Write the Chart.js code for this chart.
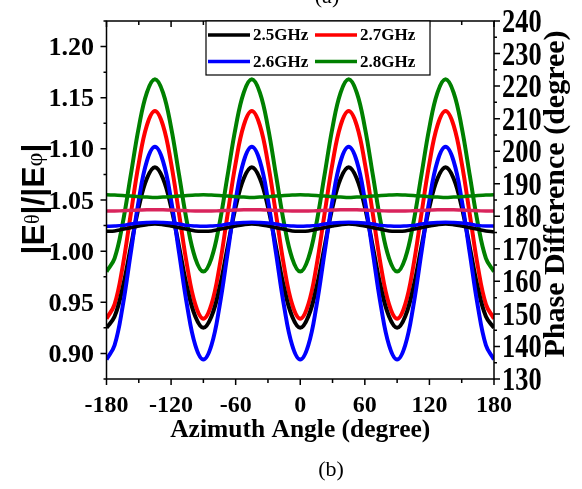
<!DOCTYPE html>
<html>
<head>
<meta charset="utf-8">
<script src="https://cdn.jsdelivr.net/npm/chart.js@4.4.1/dist/chart.umd.min.js"></script>
<style>
html,body{margin:0;padding:0;background:#fff;}
canvas{display:block;}
</style>
</head>
<body>
<canvas id="c" width="582" height="489"></canvas>
<script>
/* ---------------- data ---------------- */

const angles = [
  -180,-172.5,-165,-157.5,-150,-142.5,-135,-127.5,-120,-112.5,-105,-97.5,
  -90,-82.5,-75,-67.5,-60,-52.5,-45,-37.5,-30,-22.5,-15,-7.5,
  0,7.5,15,22.5,30,37.5,45,52.5,60,67.5,75,82.5,
  90,97.5,105,112.5,120,127.5,135,142.5,150,157.5,165,172.5,
  180
];

const freqLabels = ['2.5GHz','2.6GHz','2.7GHz','2.8GHz'];

// |Etheta|/|Ephi|  (left axis)
const ratio25 = [
  0.925,0.936,0.964,1.004,1.043,1.071,1.082,1.071,1.043,1.004,0.964,0.936,
  0.925,0.936,0.964,1.004,1.043,1.071,1.082,1.071,1.043,1.004,0.964,0.936,
  0.925,0.936,0.964,1.004,1.043,1.071,1.082,1.071,1.043,1.004,0.964,0.936,
  0.925,0.936,0.964,1.004,1.043,1.071,1.082,1.071,1.043,1.004,0.964,0.936,
  0.925
];
const ratio26 = [
  0.894,0.908,0.946,0.998,1.050,1.088,1.102,1.088,1.050,0.998,0.946,0.908,
  0.894,0.908,0.946,0.998,1.050,1.088,1.102,1.088,1.050,0.998,0.946,0.908,
  0.894,0.908,0.946,0.998,1.050,1.088,1.102,1.088,1.050,0.998,0.946,0.908,
  0.894,0.908,0.946,0.998,1.050,1.088,1.102,1.088,1.050,0.998,0.946,0.908,
  0.894
];
const ratio27 = [
  0.934,0.948,0.985,1.036,1.086,1.123,1.137,1.123,1.086,1.036,0.985,0.948,
  0.934,0.948,0.985,1.036,1.086,1.123,1.137,1.123,1.086,1.036,0.985,0.948,
  0.934,0.948,0.985,1.036,1.086,1.123,1.137,1.123,1.086,1.036,0.985,0.948,
  0.934,0.948,0.985,1.036,1.086,1.123,1.137,1.123,1.086,1.036,0.985,0.948,
  0.934
];
const ratio28 = [
  0.980,0.993,1.027,1.074,1.121,1.155,1.168,1.155,1.121,1.074,1.027,0.993,
  0.980,0.993,1.027,1.074,1.121,1.155,1.168,1.155,1.121,1.074,1.027,0.993,
  0.980,0.993,1.027,1.074,1.121,1.155,1.168,1.155,1.121,1.074,1.027,0.993,
  0.980,0.993,1.027,1.074,1.121,1.155,1.168,1.155,1.121,1.074,1.027,0.993,
  0.980
];

// phase difference (right axis)
const phase25 = [
  175.4,175.5,176.0,176.5,177.0,177.4,177.6,177.4,177.0,176.5,176.0,175.5,
  175.4,175.5,176.0,176.5,177.0,177.4,177.6,177.4,177.0,176.5,176.0,175.5,
  175.4,175.5,176.0,176.5,177.0,177.4,177.6,177.4,177.0,176.5,176.0,175.5,
  175.4,175.5,176.0,176.5,177.0,177.4,177.6,177.4,177.0,176.5,176.0,175.5,
  175.2
];
const phase26 = [
  176.9,177.0,177.2,177.6,177.9,178.1,178.2,178.1,177.9,177.6,177.2,177.0,
  176.9,177.0,177.2,177.6,177.9,178.1,178.2,178.1,177.9,177.6,177.2,177.0,
  176.9,177.0,177.2,177.6,177.9,178.1,178.2,178.1,177.9,177.6,177.2,177.0,
  176.9,177.0,177.2,177.6,177.9,178.1,178.2,178.1,177.9,177.6,177.2,177.0,
  177.0
];
const phase27 = [
  181.6,181.6,181.7,181.8,181.9,182.0,182.0,182.0,181.9,181.8,181.7,181.6,
  181.6,181.6,181.7,181.8,181.9,182.0,182.0,182.0,181.9,181.8,181.7,181.6,
  181.6,181.6,181.7,181.8,181.9,182.0,182.0,182.0,181.9,181.8,181.7,181.6,
  181.6,181.6,181.7,181.8,181.9,182.0,182.0,182.0,181.9,181.8,181.7,181.6,
  181.6
];
const phase28 = [
  186.6,186.5,186.4,186.2,186.0,185.9,185.8,185.9,186.0,186.2,186.4,186.5,
  186.6,186.5,186.4,186.2,186.0,185.9,185.8,185.9,186.0,186.2,186.4,186.5,
  186.6,186.5,186.4,186.2,186.0,185.9,185.8,185.9,186.0,186.2,186.4,186.5,
  186.6,186.5,186.4,186.2,186.0,185.9,185.8,185.9,186.0,186.2,186.4,186.5,
  186.6
];

const ratioTicks = ['0.90','0.95','1.00','1.05','1.10','1.15','1.20'];
const phaseTicks = [130,140,150,160,170,180,190,200,210,220,230,240];

/* ---------------- helpers ---------------- */

const SERIF = '"Liberation Serif", "Times New Roman", serif';
const SANS = '"Liberation Sans", Arial, sans-serif';

function pts(arr){
    return angles.map((a,i)=>({x:a, y:arr[i]}));
}

function ds(label, arr, color, axis, width, order){
    return {
        label: label,
        data: pts(arr),
        borderColor: color,
        borderWidth: width,
        pointRadius: 0,
        tension: 0.4,
        fill: false,
        yAxisID: axis,
        order: order
    };
}

/* ---------------- drawing plugin ---------------- */

const decor = {
    id: 'decor',
    afterDraw(chart){
        const ctx = chart.ctx;
        const a = chart.chartArea;
        const sx = chart.scales.x, sy = chart.scales.y, sy1 = chart.scales.y1;

        ctx.save();
        ctx.strokeStyle = '#000';
        ctx.fillStyle = '#000';
        ctx.lineWidth = 1.5;
        ctx.strokeRect(a.left, a.top, a.right - a.left, a.bottom - a.top);

        // x ticks: bottom outward, top inward
        ctx.beginPath();
        for(let v=-180; v<=180; v+=30){
            const px = sx.getPixelForValue(v);
            const len = (v % 60 === 0) ? 6 : 4;
            ctx.moveTo(px, a.bottom); ctx.lineTo(px, a.bottom + len);
            ctx.moveTo(px, a.top); ctx.lineTo(px, a.top + len);
        }
        // left ticks
        for(let k=35; k<=49; k++){
            const py = sy.getPixelForValue(k*0.025);
            const len = (k % 2 === 0) ? 6 : 3;
            ctx.moveTo(a.left, py); ctx.lineTo(a.left - len, py);
        }
        // right ticks
        for(let v=130; v<=240; v+=5){
            const py = sy1.getPixelForValue(v);
            const len = (v % 10 === 0) ? 6 : 3;
            ctx.moveTo(a.right, py); ctx.lineTo(a.right + len, py);
        }
        ctx.stroke();

        // left tick labels
        ctx.font = 'bold 26px ' + SERIF;
        ctx.textAlign = 'right';
        ctx.textBaseline = 'alphabetic';
        ratioTicks.forEach(t=>{
            const py = sy.getPixelForValue(parseFloat(t));
            ctx.fillText(t, 94, py + 8.6);
        });

        // right tick labels (a little narrow)
        phaseTicks.forEach(t=>{
            const py = sy1.getPixelForValue(t);
            ctx.save();
            ctx.font = 'bold 33px ' + SERIF;
            ctx.textAlign = 'left';
            ctx.textBaseline = 'alphabetic';
            ctx.translate(502, py + 11);
            ctx.scale(0.8, 1);
            ctx.fillText(String(t), 0, 0);
            ctx.restore();
        });

        // left title |Eθ|/|Eφ|
        const parts = [
            ['|E', 'bold 32px ' + SANS, 0],
            ['θ', '20px ' + SERIF, 5],
            ['|/|E', 'bold 32px ' + SANS, 0],
            ['φ', '24px ' + SERIF, 2],
            ['|', 'bold 32px ' + SANS, 0]
        ];
        let total = 0;
        parts.forEach(p=>{ ctx.font = p[1]; total += ctx.measureText(p[0]).width; });
        ctx.save();
        ctx.translate(33, 199);
        ctx.rotate(-Math.PI/2);
        ctx.textAlign = 'left';
        ctx.textBaseline = 'alphabetic';
        let u = -total/2;
        parts.forEach(p=>{
            ctx.font = p[1];
            ctx.fillText(p[0], u, 11 - p[2]);
            u += ctx.measureText(p[0]).width;
        });
        ctx.restore();

        // right title
        ctx.save();
        ctx.translate(556, 194);
        ctx.rotate(-Math.PI/2);
        ctx.font = 'bold 30px ' + SERIF;
        ctx.textAlign = 'center';
        ctx.textBaseline = 'middle';
        ctx.fillText('Phase Difference (degree)', 0, 0);
        ctx.restore();

        // legend box (two columns)
        ctx.fillStyle = '#fff';
        ctx.fillRect(206, a.top, 224, 54);
        ctx.lineWidth = 1.2;
        ctx.strokeRect(206, a.top, 224, 54);
        const cols = [208, 315];
        const rows = [35, 61.5];
        const order = [0, 1, 2, 3]; // 2.5,2.6 | 2.7,2.8
        order.forEach((idx, n)=>{
            const d = chart.data.datasets.find(s=>s.label === freqLabels[idx] && s.yAxisID === 'y');
            const cx = cols[Math.floor(n/2)];
            const cy = rows[n % 2];
            ctx.strokeStyle = d.borderColor;
            ctx.lineWidth = 3.5;
            ctx.beginPath();
            ctx.moveTo(cx, cy); ctx.lineTo(cx + 42, cy);
            ctx.stroke();
            ctx.fillStyle = '#000';
            ctx.font = 'bold 17px ' + SERIF;
            ctx.textAlign = 'left';
            ctx.textBaseline = 'middle';
            ctx.fillText(freqLabels[idx], cx + 45, cy + 1);
        });

        // panel labels
        ctx.fillStyle = '#000';
        ctx.font = '22px ' + SERIF;
        ctx.textAlign = 'center';
        ctx.textBaseline = 'alphabetic';
        ctx.fillText('(a)', 327, 3);
        ctx.fillText('(b)', 331, 476);

        ctx.restore();
    }
};

/* ---------------- chart ---------------- */

const datasets = [
    ds('2.8GHz', phase28, '#008000', 'y1', 3.5, 1),
    ds('2.7GHz', phase27, '#d9245c', 'y1', 3.5, 2),
    ds('2.6GHz', phase26, '#0000ff', 'y1', 3.5, 3),
    ds('2.5GHz', phase25, '#000000', 'y1', 3.5, 4),
    ds('2.6GHz', ratio26, '#0000ff', 'y', 4, 5),
    ds('2.5GHz', ratio25, '#000000', 'y', 4, 6),
    ds('2.7GHz', ratio27, '#ff0000', 'y', 4, 7),
    ds('2.8GHz', ratio28, '#008000', 'y', 4, 8)
];

new Chart(document.getElementById('c'), {
    type: 'line',
    data: { datasets: datasets },
    options: {
        responsive: false,
        animation: false,
        devicePixelRatio: 1,
        layout: { padding: { top: 21, left: 0, right: 0, bottom: 0 } },
        plugins: { legend: { display: false }, tooltip: { enabled: false } },
        scales: {
            x: {
                type: 'linear',
                position: 'bottom',
                min: -180, max: 180,
                grid: { display: false, drawTicks: false },
                border: { display: false },
                ticks: {
                    stepSize: 60,
                    padding: 12,
                    maxRotation: 0,
                    color: '#000',
                    font: { family: SERIF, size: 24, weight: 'bold' }
                },
                title: {
                    display: true,
                    text: 'Azimuth Angle (degree)',
                    color: '#000',
                    font: { family: SERIF, size: 25.5, weight: 'bold' },
                    padding: { top: 0, bottom: 43 }
                },
                afterFit(s){ s.height = 110; }
            },
            y: {
                position: 'left',
                min: 0.875, max: 1.225,
                grid: { display: false, drawTicks: false },
                border: { display: false },
                ticks: { display: false },
                afterFit(s){ s.width = 106.5; }
            },
            y1: {
                position: 'right',
                min: 130, max: 240,
                grid: { display: false, drawTicks: false },
                border: { display: false },
                ticks: { display: false },
                afterFit(s){ s.width = 88; }
            }
        }
    },
    plugins: [decor]
});
</script>
</body>
</html>
